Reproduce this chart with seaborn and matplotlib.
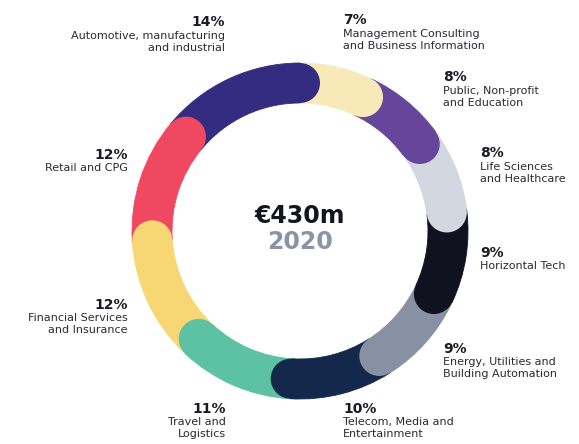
import matplotlib
matplotlib.use("Agg")
import matplotlib.pyplot as plt
from matplotlib.patches import Circle
import seaborn as sns
import numpy as np

# data, clockwise from 12 o'clock
sectors = ["Management Consulting\nand Business Information",
           "Public, Non-profit\nand Education",
           "Life Sciences\nand Healthcare",
           "Horizontal Tech",
           "Energy, Utilities and\nBuilding Automation",
           "Telecom, Media and\nEntertainment",
           "Travel and\nLogistics",
           "Financial Services\nand Insurance",
           "Retail and CPG",
           "Automotive, manufacturing\nand industrial"]
shares = [7, 8, 8, 9, 9, 10, 11, 12, 12, 14]
colors = ["#f8eab8", "#65469a", "#d3d7e0", "#11121f", "#8791a3",
          "#13284a", "#5dc2a4", "#f7d774", "#ef4860", "#332c80"]
total_label = "€430m"
year_label = "2020"

# label layout in pixel coords (x, pct centre y, name top y, alignment)
label_pos = [(343, 20, 29, "left"), (443, 77, 86, "left"), (480, 153, 162, "left"),
             (480, 253, 261, "left"), (443, 349, 357, "left"), (343, 409, 417, "left"),
             (226, 409, 417, "right"), (128, 305, 313, "right"), (128, 155, 163, "right"),
             (225, 22, 31, "right")]

W, H = 579, 444
cx, cy = 300, H - 231
R, ring = 168, 40

sns.set_theme(style="white")
plt.rcParams["font.family"] = ["DejaVu Sans"]

fig = plt.figure(figsize=(W / 100, H / 100), dpi=100)
ax = fig.add_axes([0, 0, 1, 1])

wedges, _ = ax.pie(shares, colors=colors, startangle=90, counterclock=False,
                   radius=R, center=(cx, cy),
                   wedgeprops=dict(width=ring, linewidth=0.6))
for w in wedges:
    w.set_edgecolor(w.get_facecolor())

# rounded end caps on the clockwise end of every segment
ends = 90 - 360 * np.cumsum(shares) / sum(shares)
rm = R - ring / 2
for ang, col in zip(ends, colors):
    t = np.deg2rad(ang)
    ax.add_patch(Circle((cx + rm * np.cos(t), cy + rm * np.sin(t)), ring / 2,
                        facecolor=col, edgecolor="none", zorder=5))

ax.text(cx, H - 216, total_label, ha="center", va="center",
        fontsize=17, fontweight="bold", color="#15151f")
ax.text(cx, H - 242, year_label, ha="center", va="center",
        fontsize=17, fontweight="bold", color="#8a94a8")

for name, val, (x, py, ny, al) in zip(sectors, shares, label_pos):
    ax.text(x, H - py, f"{val}%", ha=al, va="center", fontsize=10,
            fontweight="bold", color="#1a1a24")
    ax.text(x, H - ny, name, ha=al, va="top", fontsize=8, color="#2a2a35",
            multialignment=al, linespacing=1.25)

ax.set_xlim(0, W)
ax.set_ylim(0, H)
ax.set_aspect("auto")
ax.axis("off")

fig.savefig("out.png", dpi=100, facecolor="white")
